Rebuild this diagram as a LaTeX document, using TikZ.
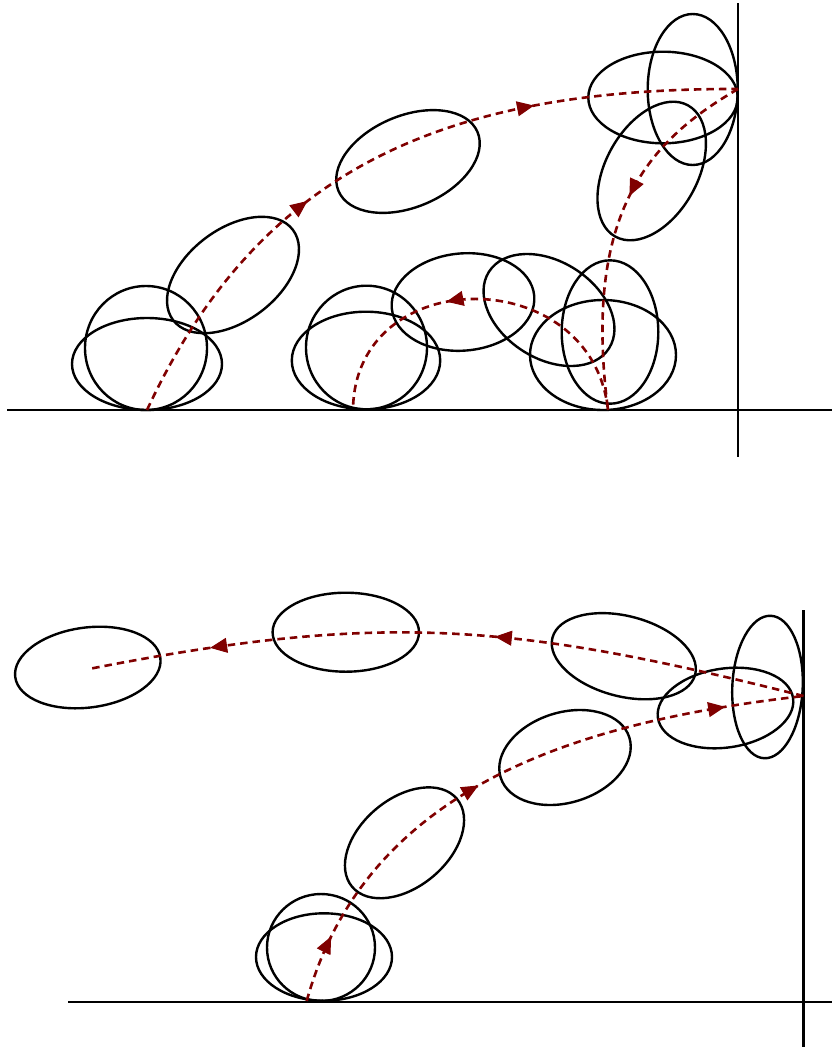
\documentclass[tikz,border=0pt]{standalone}
\usetikzlibrary{decorations.markings,arrows.meta}
\definecolor{trajred}{RGB}{128,0,0}
\tikzset{
  body/.style={draw=black, line width=2.4pt},
  ground/.style={draw=black, line width=2.9pt},
  traj/.style={draw=trajred, line width=2.6pt, dash pattern=on 7.5pt off 5pt},
  tipat/.style={postaction={decorate, decoration={markings,
      mark=at position #1 with {\arrow[trajred,solid,line width=1pt]{Triangle[length=17pt,width=15pt]}}}}}
}
\begin{document}
\begin{tikzpicture}[x=1pt,y=-1pt]
\useasboundingbox (0,0) rectangle (832,1047);

% ---------------- top panel ----------------
\draw[ground] (7,410) -- (832,410);
\draw[ground] (738,3) -- (738,457);

\draw[body] (147,364) ellipse [x radius=75, y radius=46];
\draw[body] (146,348) ellipse [x radius=61, y radius=62];
\draw[body, rotate around={37:(233,275)}] (233,275) ellipse [x radius=75, y radius=46];
\draw[body, rotate around={23:(408,161.5)}] (408,161.5) ellipse [x radius=75.5, y radius=45.7];
\draw[body] (663,97.5) ellipse [x radius=74.7, y radius=45.8];
\draw[body] (692.7,89.5) ellipse [x radius=45, y radius=75.5];
\draw[body, rotate around={61:(651.7,171)}] (651.7,171) ellipse [x radius=75, y radius=46];
\draw[body] (366,360.5) ellipse [x radius=74.2, y radius=48.8];
\draw[body] (366.5,347.5) ellipse [x radius=60.5, y radius=61.8];
\draw[body, rotate around={5:(463,302)}] (463,302) ellipse [x radius=71.5, y radius=48.6];
\draw[body, rotate around={-32.5:(549,310)}] (549,310) ellipse [x radius=71.2, y radius=48.5];
\draw[body] (610,332) ellipse [x radius=48.3, y radius=71.7];
\draw[body] (603,355) ellipse [x radius=73, y radius=55];

\coordinate (sA) at (147,410);
\coordinate (wA) at (738,89);
\coordinate (fA) at (608,410);
\coordinate (eA) at (353,409.5);

\draw[traj, tipat=0.37, tipat=0.715] (sA) .. controls (257,174) and (437,88) .. (wA);
\draw[traj, tipat=0.415] (wA) .. controls (651,139.5) and (582,210) .. (fA);
\draw[traj, tipat=0.585] (fA) .. controls (592,262) and (355,262) .. (eA);

% ---------------- bottom panel ----------------
\draw[ground] (68,1002) -- (832,1002);
\draw[ground] (803.5,610) -- (803.5,1047);

\draw[body] (321,947.5) ellipse [x radius=54, y radius=53.5];
\draw[body] (324,957) ellipse [x radius=68, y radius=43.7];
\draw[body, rotate around={40:(404.5,842.8)}] (404.5,842.8) ellipse [x radius=68.4, y radius=44.1];
\draw[body, rotate around={17.3:(565,757.5)}] (565,757.5) ellipse [x radius=67.4, y radius=45.1];
\draw[body, rotate around={8.3:(725.5,708)}] (725.5,708) ellipse [x radius=68.3, y radius=39.5];
\draw[body, rotate around={87.3:(767.5,687)}] (767.5,687) ellipse [x radius=71.3, y radius=35.2];
\draw[body, rotate around={-14.5:(623.8,656.2)}] (623.8,656.2) ellipse [x radius=73.7, y radius=40.2];
\draw[body] (345.8,632.2) ellipse [x radius=73.2, y radius=39.5];
\draw[body, rotate around={7.5:(87.8,667.5)}] (87.8,667.5) ellipse [x radius=73.2, y radius=40];

\coordinate (sB) at (306.7,1001);
\coordinate (wB) at (803.5,696);
\coordinate (eB) at (87.3,669.3);

\draw[traj, tipat=0.111, tipat=0.455, tipat=0.873] (sB) .. controls (367,783) and (585,721) .. (wB);
\draw[traj, tipat=0.434, tipat=0.828] (wB) .. controls (512,622.5) and (381.6,611.4) .. (eB);
\end{tikzpicture}
\end{document}
